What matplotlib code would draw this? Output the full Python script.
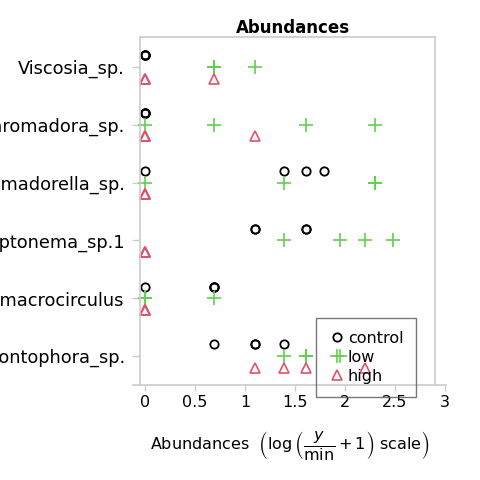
import numpy as np
import matplotlib.pyplot as plt

# species, top to bottom (names are cut at the figure edge)
species = ["Viscosia_sp.", "Neoparomadora_sp.", "Chromadorella_sp.",
           "Daptonema_sp.1", "Sabatieria_macrocirculus", "Odontophora_sp."]

# raw counts per treatment (4 replicates each), same order as species
control = [[0, 0, 0, 0],
           [0, 0, 0, 0],
           [0, 3, 4, 5],
           [2, 2, 4, 4],
           [0, 1, 1, 1],
           [1, 2, 2, 3]]
low = [[1, 1, 1, 2],
       [0, 1, 4, 9],
       [0, 3, 9, 9],
       [3, 6, 8, 11],
       [0, 0, 0, 1],
       [3, 4, 4, 6]]
high = [[0, 0, 0, 1],
        [0, 0, 0, 2],
        [0, 0, 0, 0],
        [0, 0, 0, 0],
        [0, 0, 0, 0],
        [2, 3, 4, 8]]

ymin = 1
green = "#61D04F"
red = "#DF536B"
grey = "#cccccc"

fig = plt.figure(figsize=(4.8, 4.8), dpi=100)
ax = fig.add_axes([0.277, 0.198, 0.652, 0.725])

n = len(species)
ypos = np.arange(n, 0, -1)

groups = [("control", control, 0.2, dict(marker="o", color="black", mfc="none", ms=6, mew=1.3)),
          ("low", low, 0.0, dict(marker="+", color=green, ms=10, mew=1.2)),
          ("high", high, -0.2, dict(marker="^", color=red, mfc="none", ms=7.5, mew=1.2))]

for name, vals, off, style in groups:
    xs, ys = [], []
    for i, row in enumerate(vals):
        for v in row:
            xs.append(np.log(v / ymin + 1))
            ys.append(ypos[i] + off)
    ax.plot(xs, ys, ls="none", label=name, **style)

ax.set_xlim(-0.12, 3.01)
ax.set_ylim(0.5, 6.52)
ax.spines["left"].set_position(("data", -0.05))
ax.spines["right"].set_position(("data", 2.9))
ax.spines["top"].set_bounds(-0.05, 2.9)
ax.spines["left"].set_bounds(0.5, 6.52)
for s in ax.spines.values():
    s.set_color(grey)
    s.set_linewidth(1.2)

ax.set_xticks([0, 0.5, 1, 1.5, 2, 2.5, 3])
ax.set_xticklabels(["0", "0.5", "1", "1.5", "2", "2.5", "3"])
ax.set_yticks(ypos)
ax.set_yticklabels(species)
ax.tick_params(axis="x", length=4, width=1, color=grey, labelsize=11.5, pad=3)
ax.tick_params(axis="y", length=6, width=1, color=grey, labelsize=12.75, pad=5)

ax.set_title("Abundances", fontsize=12, fontweight="bold", pad=1, x=0.51)
ax.set_xlabel(r"Abundances  $\left(\log\left(\dfrac{y}{\mathrm{min}}+1\right)\ \mathrm{scale}\right)$",
              fontsize=11.5, labelpad=14)

leg = ax.legend(loc="lower left", bbox_to_anchor=(0.585, -0.034), borderaxespad=0,
                fontsize=11.5, frameon=True, fancybox=False,
                handletextpad=0.2, labelspacing=0.25, handlelength=1.0,
                borderpad=0.8)
leg.get_frame().set_facecolor("none")
leg.get_frame().set_edgecolor("#555555")
leg.get_frame().set_linewidth(1)

fig.savefig("out.png", dpi=100)
